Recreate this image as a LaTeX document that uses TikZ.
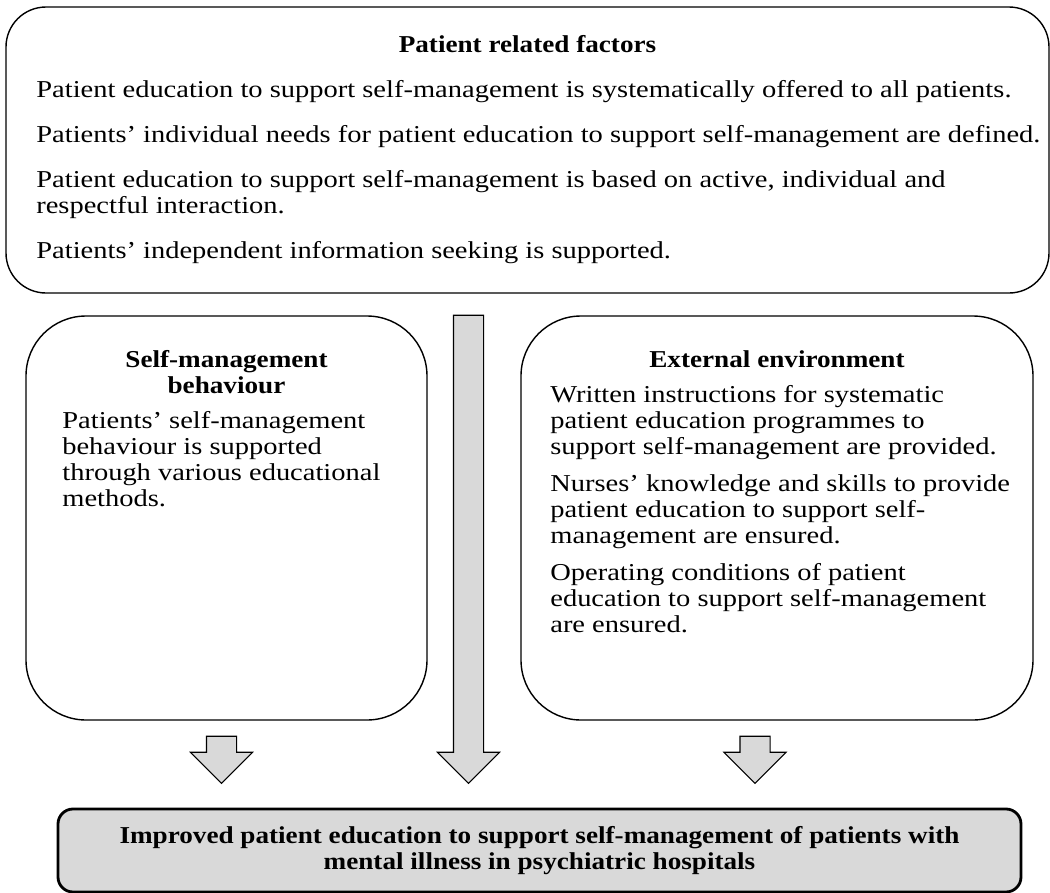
\documentclass[tikz,border=0pt]{standalone}
\usepackage{fontspec}
\setmainfont{Liberation Serif}[FakeStretch=1.175, BoldFeatures={FakeStretch=1.12}]
\usetikzlibrary{positioning,shapes.arrows}

\definecolor{boxgray}{HTML}{D9D9D9}
\newcommand{\txtsize}{\fontsize{13.8}{14.8}\selectfont}

\begin{document}
\begin{tikzpicture}[
        panel/.style={rectangle, draw=black, line width=0.8pt, rounded corners=1.2cm},
        toppanel/.style={panel, rounded corners=0.8cm},
        result/.style={rectangle, draw=black, fill=boxgray, line width=1.6pt, rounded corners=0.3cm, align=center, font=\bfseries\txtsize},
        heading/.style={inner sep=0pt, align=center, font=\bfseries\txtsize},
        body/.style={inner sep=0pt, align=left, font=\txtsize},
        downarrow/.style={single arrow, draw=black, fill=boxgray, line width=0.6pt, rotate=-90, anchor=tip,
            inner xsep=0pt, inner ysep=0.29cm, single arrow head extend=0.32cm, single arrow tip angle=90},
        node distance=0.5cm
    ]
    \useasboundingbox (0,0) rectangle (21,-17.86);

    % the three boxes of factors
    \node[toppanel, minimum width=20.86cm, minimum height=5.72cm] (factors) at (10.55,-3.0) {};
    \node[panel, minimum width=8.02cm, minimum height=8.08cm] (behaviour) at (4.53,-10.36) {};
    \node[panel, minimum width=10.24cm, minimum height=8.08cm] (environment) at (15.54,-10.36) {};

    \node[heading, anchor=base] (factorstitle) at (10.55,-1.04) {Patient related factors};
    \node[body, anchor=north west] (factorstext) at (0.72,-1.61) {%
        Patient education to support self-management is systematically offered to all patients.\\[0.38cm]
        Patients' individual needs for patient education to support self-management are defined.\\[0.38cm]
        Patient education to support self-management is based on active, individual and\\
        respectful interaction.\\[0.38cm]
        Patients' independent information seeking is supported.};

    \node[heading, anchor=north] (behaviourtitle) at (4.53,-7.01) {Self-management\\behaviour};
    \node[body, anchor=north west] (behaviourtext) at (1.24,-8.23) {%
        Patients' self-management\\
        behaviour is supported\\
        through various educational\\
        methods.};

    \node[heading, anchor=base] (environmenttitle) at (15.54,-7.34) {External environment};
    \node[body, anchor=north west] (environmenttext) at (11.0,-7.71) {%
        Written instructions for systematic\\
        patient education programmes to\\
        support self-management are provided.\\[0.22cm]
        Nurses' knowledge and skills to provide\\
        patient education to support self-\\
        management are ensured.\\[0.22cm]
        Operating conditions of patient\\
        education to support self-management\\
        are ensured.};

    % outcome
    \node[result, minimum width=19.26cm, minimum height=1.66cm] (outcome) at (10.79,-17.01)
        {Improved patient education to support self-management of patients with\\
        mental illness in psychiatric hospitals};

    % block arrows into the outcome
    \node[downarrow, minimum height=0.94cm] (behaviourarrow) at (4.43,-15.68) {};
    \node[downarrow, minimum height=9.36cm] (factorsarrow) at (9.37,-15.68) {};
    \node[downarrow, minimum height=0.94cm] (environmentarrow) at (15.1,-15.68) {};

\end{tikzpicture}
\end{document}
